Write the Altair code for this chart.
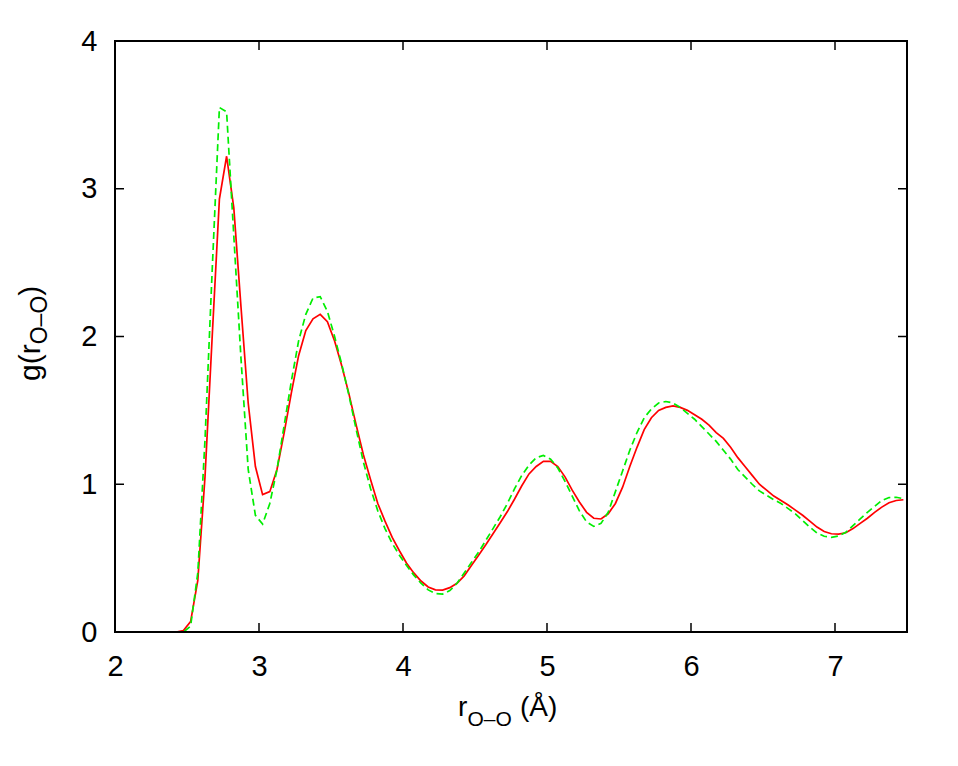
import altair as alt
import pandas as pd

# radial grid (Å)
r_values = [
    2.025, 2.075, 2.125, 2.175, 2.225, 2.275, 2.325, 2.375, 2.425, 2.475,
    2.525, 2.575, 2.625, 2.675, 2.725, 2.775, 2.825, 2.875, 2.925, 2.975,
    3.025, 3.075, 3.125, 3.175, 3.225, 3.275, 3.325, 3.375, 3.425, 3.475,
    3.525, 3.575, 3.625, 3.675, 3.725, 3.775, 3.825, 3.875, 3.925, 3.975,
    4.025, 4.075, 4.125, 4.175, 4.225, 4.275, 4.325, 4.375, 4.425, 4.475,
    4.525, 4.575, 4.625, 4.675, 4.725, 4.775, 4.825, 4.875, 4.925, 4.975,
    5.025, 5.075, 5.125, 5.175, 5.225, 5.275, 5.325, 5.375, 5.425, 5.475,
    5.525, 5.575, 5.625, 5.675, 5.725, 5.775, 5.825, 5.875, 5.925, 5.975,
    6.025, 6.075, 6.125, 6.175, 6.225, 6.275, 6.325, 6.375, 6.425, 6.475,
    6.525, 6.575, 6.625, 6.675, 6.725, 6.775, 6.825, 6.875, 6.925, 6.975,
    7.025, 7.075, 7.125, 7.175, 7.225, 7.275, 7.325, 7.375, 7.425, 7.475,
]

# red solid curve
g_red = [
    0, 0, 0, 0, 0, 0, 0, 0, 0, 0.01,
    0.07, 0.35, 1.05, 2.0, 2.93, 3.22, 2.87, 2.2, 1.55, 1.12,
    0.93, 0.95, 1.10, 1.35, 1.62, 1.87, 2.04, 2.12, 2.15, 2.10,
    1.97, 1.80, 1.61, 1.40, 1.20, 1.03, 0.87, 0.75, 0.64, 0.55,
    0.465, 0.40, 0.345, 0.305, 0.285, 0.284, 0.30, 0.33, 0.38, 0.45,
    0.52, 0.59, 0.665, 0.74, 0.815, 0.90, 0.99, 1.07, 1.12, 1.155,
    1.155, 1.12, 1.05, 0.96, 0.88, 0.81, 0.77, 0.765, 0.80, 0.87,
    0.98, 1.12, 1.25, 1.37, 1.45, 1.50, 1.52, 1.53, 1.52, 1.50,
    1.47, 1.44, 1.40, 1.35, 1.31, 1.25, 1.18, 1.12, 1.06, 1.00,
    0.96, 0.92, 0.89, 0.86, 0.825, 0.79, 0.75, 0.71, 0.68, 0.665,
    0.663, 0.672, 0.70, 0.735, 0.77, 0.81, 0.845, 0.875, 0.89, 0.895,
]

# green dashed curve
g_green = [
    0, 0, 0, 0, 0, 0, 0, 0, 0, 0.0,
    0.04, 0.40, 1.30, 2.45, 3.55, 3.52, 2.68, 1.85, 1.10, 0.79,
    0.73, 0.87, 1.10, 1.40, 1.70, 1.97, 2.15, 2.26, 2.27, 2.17,
    2.00, 1.81, 1.60, 1.37, 1.15, 0.97, 0.82, 0.70, 0.60, 0.52,
    0.45, 0.385, 0.33, 0.285, 0.26, 0.257, 0.28, 0.33, 0.40, 0.47,
    0.54, 0.62, 0.70, 0.78, 0.87, 0.97, 1.06, 1.13, 1.18, 1.195,
    1.17, 1.11, 1.02, 0.92, 0.82, 0.745, 0.715, 0.735, 0.81, 0.95,
    1.09, 1.23, 1.35, 1.45, 1.51, 1.55, 1.56, 1.55, 1.52, 1.48,
    1.44, 1.39, 1.34, 1.29, 1.23, 1.17, 1.10, 1.05, 1.00, 0.955,
    0.925, 0.895, 0.87, 0.835, 0.80, 0.755, 0.71, 0.67, 0.648, 0.641,
    0.65, 0.675, 0.72, 0.765, 0.81, 0.85, 0.89, 0.91, 0.912, 0.902,
]

x_ticks = [2, 3, 4, 5, 6, 7]
y_ticks = [0, 1, 2, 3, 4]

assert len(r_values) == len(g_red) == len(g_green)

W, H = 792, 591
FONT = "Liberation Sans"

n = len(r_values)
df = pd.DataFrame({
    "r": r_values * 2,
    "g": g_red + g_green,
    "series": ["red"] * n + ["green"] * n,
})

xscale = alt.Scale(domain=[2, 7.5], nice=False, zero=False)
yscale = alt.Scale(domain=[0, 4], nice=False, zero=False)

x_axis = alt.Axis(values=x_ticks, format="d", ticks=False, tickSize=0, domain=False,
                  grid=False, labelFontSize=29, labelFont=FONT, labelColor="black",
                  labelPadding=20, labelFlush=False, labelOverlap=False, title=None)
y_axis = alt.Axis(values=y_ticks, format="d", ticks=False, tickSize=0, domain=False,
                  grid=False, labelFontSize=29, labelFont=FONT, labelColor="black",
                  labelPadding=18, labelFlush=False, labelOverlap=False, title=None)

x_enc = alt.X("r:Q", scale=xscale, axis=x_axis)
y_enc = alt.Y("g:Q", scale=yscale, axis=y_axis)

red = alt.Chart(df).transform_filter(alt.datum.series == "red").mark_line(
    color="#ff0000", strokeWidth=1.7
).encode(x=x_enc, y=y_enc)

green = alt.Chart(df).transform_filter(alt.datum.series == "green").mark_line(
    color="#00ee00", strokeWidth=1.7, strokeDash=[7, 4]
).encode(x=x_enc, y=y_enc)

xt = pd.DataFrame({"r": x_ticks})
yt = pd.DataFrame({"g": y_ticks})
TL = 9
tick_bottom = alt.Chart(xt).mark_rule(color="black", strokeWidth=1.5).encode(
    x=x_enc, y=alt.value(H), y2=alt.value(H - TL))
tick_top = alt.Chart(xt).mark_rule(color="black", strokeWidth=1.5).encode(
    x=x_enc, y=alt.value(0), y2=alt.value(TL))
tick_left = alt.Chart(yt).mark_rule(color="black", strokeWidth=1.5).encode(
    y=y_enc, x=alt.value(0), x2=alt.value(TL))
tick_right = alt.Chart(yt).mark_rule(color="black", strokeWidth=1.5).encode(
    y=y_enc, x=alt.value(W), x2=alt.value(W - TL))

one = pd.DataFrame({"k": [0]})

# frame drawn on top of the curves (gnuplot border)
def frame(x1, x2, y1, y2):
    return alt.Chart(one).mark_rule(color="black", strokeWidth=2).encode(
        x=alt.value(x1), x2=alt.value(x2), y=alt.value(y1), y2=alt.value(y2))

frames = [frame(0, W, H, H), frame(0, W, 0, 0), frame(0, 0, 0, H), frame(W, W, 0, H)]

MAIN, SUB = 28, 21

def txt(s, x, y, size, angle=0):
    kw = dict(text=s, align="left", baseline="alphabetic", fontSize=size,
              font=FONT, color="black")
    if angle:
        kw["angle"] = angle
    return alt.Chart(one).mark_text(**kw).encode(x=alt.value(x), y=alt.value(y))

# x-axis title: r_{O–O} (Å)
xs = 343
x_title = [
    txt("r", xs, 675, MAIN),
    txt("O–O", xs + 9.5, 685, SUB),
    txt("(Å)", xs + 9.5 + 44.5 + 8, 675, MAIN),
]

# y-axis title: g(r_{O–O}), rotated
YM, YS = 30, 23
ys = 340
y_title = [
    txt("g(r", -75, ys, YM, 270),
    txt("O–O", -68, ys - 36.7, YS, 270),
    txt(")", -75, ys - 36.7 - 48.6, YM, 270),
]

chart = alt.layer(
    red, green, *frames, tick_bottom, tick_top, tick_left, tick_right, *x_title, *y_title
).properties(
    width=W, height=H,
    padding={"left": 107, "top": 33, "right": 43, "bottom": 100},
    autosize=alt.AutoSizeParams(type="none"),
).configure_view(stroke="black", strokeWidth=2)

chart.save("out.html", embed_options={"renderer": "svg", "actions": False})
